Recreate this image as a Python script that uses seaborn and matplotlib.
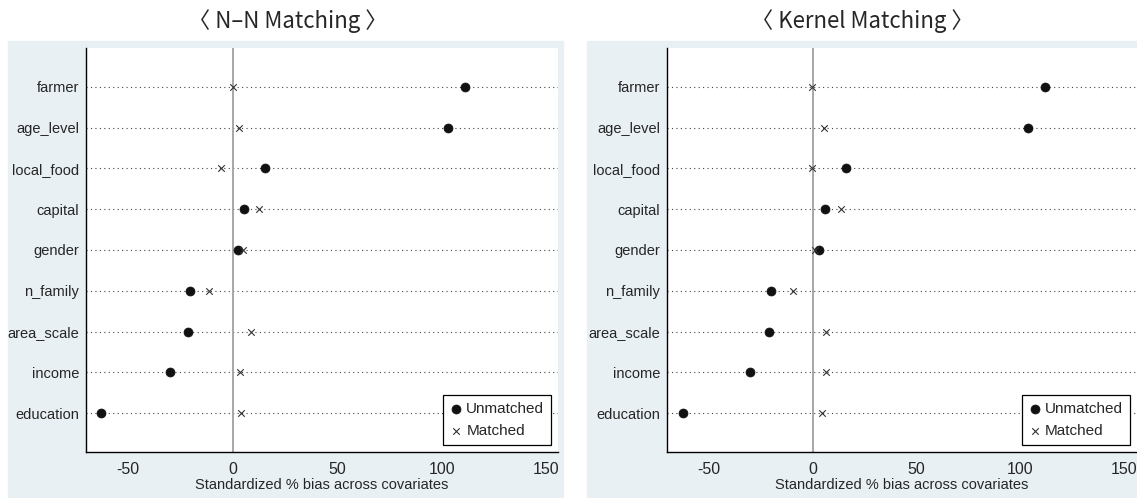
import matplotlib
matplotlib.use("Agg")
import matplotlib.pyplot as plt
from matplotlib.patches import Rectangle
import seaborn as sns
import pandas as pd

# covariates, top to bottom
covariates = ["farmer", "age_level", "local_food", "capital", "gender",
              "n_family", "area_scale", "income", "education"]

# standardized % bias, N-N matching
nn_unmatched = [111, 103, 15.5, 5.5, 2.5, -20.5, -21.5, -30, -63]
nn_matched = [0, 3, -5.5, 12.5, 5, -11, 9, 3.5, 4]

# standardized % bias, kernel matching
kn_unmatched = [112, 103.5, 16, 6, 3, -20, -21, -30, -62.5]
kn_matched = [-0.5, 5.5, -0.5, 13.5, 1, -9.5, 6.5, 6.5, 4.5]

titles = ["\u3008 N\u2013N Matching \u3009", "\u3008 Kernel Matching \u3009"]

sns.set_style("white")
plt.rcParams["font.family"] = ["Liberation Sans", "DejaVu Sans"]
plt.rcParams["axes.unicode_minus"] = False

W, H = 1137, 498
fig = plt.figure(figsize=(W / 100, H / 100), dpi=100)
bg = "#e8f0f3"

# panel backgrounds (pixels: x0, x1)
for x0, x1 in [(8, 563), (587, 1137)]:
    fig.patches.append(Rectangle((x0 / W, 0), (x1 - x0) / W, (H - 41) / H,
                                 transform=fig.transFigure, color=bg, zorder=-10))

panels = [
    (nn_unmatched, nn_matched, (86, 558), (-70, 155.5), 288),
    (kn_unmatched, kn_matched, (667, 1137), (-70, 156), 862),
]

for i, (unm, mat, (px0, px1), xlim, tx) in enumerate(panels):
    ax = fig.add_axes([px0 / W, 46 / H, (px1 - px0) / W, 404 / H])
    ax.set_zorder(2)
    df = pd.DataFrame({
        "var": covariates * 2,
        "bias": unm + mat,
        "sample": ["Unmatched"] * len(covariates) + ["Matched"] * len(covariates),
    })
    ax.axvline(0, color="#a0a0a0", lw=1.3, zorder=1)
    ax.grid(axis="y", linestyle=(0, (1, 3)), color="#444444", lw=0.8)
    ax.grid(axis="x", visible=False)
    sns.scatterplot(data=df[df["sample"] == "Unmatched"], x="bias", y="var",
                    marker="o", color="#111111", s=42, edgecolor="#111111",
                    linewidth=0.5, label="Unmatched", ax=ax, zorder=3)
    sns.scatterplot(data=df[df["sample"] == "Matched"], x="bias", y="var",
                    marker="x", color="#333333", s=22, linewidth=0.8,
                    label="Matched", ax=ax, zorder=3)
    ax.set_ylim(len(covariates) - 0.05, -0.95)
    ax.set_xlim(*xlim)
    ax.set_xticks([-50, 0, 50, 100, 150])
    ax.set_ylabel("")
    ax.set_xlabel("Standardized % bias across covariates", fontsize=10.5, labelpad=1)
    ax.tick_params(axis="x", length=5, color="#777777", labelsize=11.5, pad=2)
    ax.tick_params(axis="y", length=0, labelsize=10.5, pad=5)
    for side in ["top", "right"]:
        ax.spines[side].set_visible(False)
    for side in ["left", "bottom"]:
        ax.spines[side].set_color("black")
        ax.spines[side].set_linewidth(1.0)
    ax.set_facecolor("white")
    leg = ax.legend(loc="lower right", fancybox=False, edgecolor="black",
                    framealpha=1, fontsize=11, borderaxespad=0.45,
                    handletextpad=0.3, handlelength=0.8, borderpad=0.45,
                    labelspacing=0.55)
    leg.get_frame().set_linewidth(0.9)
    fig.text(tx / W, 1 - 21 / H, titles[i], ha="center", va="center",
             fontsize=16, family=["Noto Sans CJK KR", "DejaVu Sans"])

fig.savefig("out.png", dpi=100, facecolor="white")
